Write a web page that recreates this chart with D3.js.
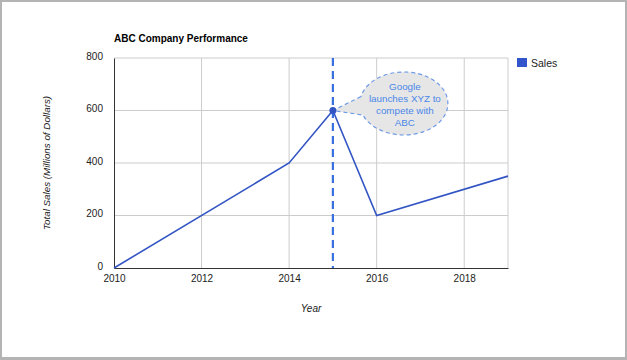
<!DOCTYPE html>
<html lang="en">
<head>
  <meta charset="UTF-8">
  <title>ABC Company Performance</title>
  <script src="https://d3js.org/d3.v7.min.js"></script>
  <style>
    body { margin: 0; background: #fff; }
    text { font-family: Arial, 'Liberation Sans', Helvetica, sans-serif; }
    .tick text { font-size: 10px; fill: #222; }
  </style>
</head>
<body>
  <script>
    var years = [2010, 2014, 2015, 2016, 2019];
    var sales = [0, 400, 600, 200, 350];
    var yTicks = [0, 200, 400, 600, 800];
    var xTicks = [2010, 2012, 2014, 2016, 2018];
    var eventYear = 2015;
    var noteLines = ["Google", "launches XYZ to", "compete with", "ABC"];

    var width = 627, height = 360;
    var margin = { top: 58, left: 114, right: 119, bottom: 92 };

    var svg = d3.select("body").append("svg")
      .attr("width", width)
      .attr("height", height);

    // outer frame
    svg.append("rect")
      .attr("x", 1).attr("y", 1)
      .attr("width", width - 2).attr("height", height - 2.5)
      .attr("fill", "#fff")
      .attr("stroke", "#b4b4b4")
      .attr("stroke-width", 2);
    svg.append("line")
      .attr("x1", 0).attr("x2", width)
      .attr("y1", height - 1.5).attr("y2", height - 1.5)
      .attr("stroke", "#b4b4b4").attr("stroke-width", 3);

    var x = d3.scaleLinear()
      .domain([2010, 2019])
      .range([margin.left, width - margin.right]);

    var y = d3.scaleLinear()
      .domain([0, 800])
      .range([height - margin.bottom, margin.top]);

    // grid
    var grid = svg.append("g");
    grid.selectAll(".hg")
      .data(yTicks.filter(function(d) { return d > 0; }))
      .enter().append("line")
      .attr("x1", x(2010)).attr("x2", x(2019))
      .attr("y1", function(d) { return y(d); })
      .attr("y2", function(d) { return y(d); })
      .attr("stroke", "#cccccc");
    grid.selectAll(".vg")
      .data(xTicks.slice(1).concat([2019]))
      .enter().append("line")
      .attr("y1", y(0)).attr("y2", y(800))
      .attr("x1", function(d) { return x(d); })
      .attr("x2", function(d) { return x(d); })
      .attr("stroke", "#cccccc");

    // axes
    var xAxis = svg.append("g")
      .attr("transform", "translate(0," + y(0) + ")")
      .call(d3.axisBottom(x).tickValues(xTicks).tickFormat(d3.format("d")).tickSize(0).tickPadding(7));
    xAxis.select(".domain").attr("stroke", "#333");

    var yAxis = svg.append("g")
      .attr("transform", "translate(" + x(2010) + ",0)")
      .call(d3.axisLeft(y).tickValues(yTicks).tickSize(0).tickPadding(11));
    yAxis.select(".domain").attr("stroke", "#333");
    yAxis.selectAll(".tick text").attr("dy", "0.1em");

    var pts = years.map(function(d, i) { return [d, sales[i]]; });
    var ev = pts[years.indexOf(eventYear)];

    // annotation bubble
    var px = x(ev[0]), py = y(ev[1]);
    var cx = px + 71, cy = py - 7, rx = 44, ry = 31.5;
    var a1 = Math.PI * 0.93, a2 = Math.PI * 1.12;
    var s1 = [cx + rx * Math.cos(a1), cy - ry * Math.sin(a1)];
    var s2 = [cx + rx * Math.cos(a2), cy - ry * Math.sin(a2)];
    var bubble = "M" + s1 + " L" + px + "," + py + " L" + s2 +
      " A" + rx + "," + ry + " 0 1 0 " + s1 + " Z";
    svg.append("path")
      .attr("d", bubble)
      .attr("fill", "#e6e6e6")
      .attr("stroke", "#6f9be6")
      .attr("stroke-width", 1.2)
      .attr("stroke-dasharray", "4,3");

    // event marker
    svg.append("line")
      .attr("x1", x(eventYear)).attr("x2", x(eventYear))
      .attr("y1", y(800)).attr("y2", y(0))
      .attr("stroke", "#3a6fe0")
      .attr("stroke-width", 2.2)
      .attr("stroke-dasharray", "8,5");

    // sales line
    svg.append("path")
      .datum(pts)
      .attr("fill", "none")
      .attr("stroke", "#3355c4")
      .attr("stroke-width", 1.6)
      .attr("d", d3.line()
        .x(function(d) { return x(d[0]); })
        .y(function(d) { return y(d[1]); }));

    svg.append("circle")
      .attr("cx", px).attr("cy", py)
      .attr("r", 3.5)
      .attr("fill", "#3355c4");

    svg.append("g").selectAll("text")
      .data(noteLines)
      .enter().append("text")
      .attr("x", cx + 1)
      .attr("y", function(d, i) { return cy - 14 + i * 12.2; })
      .attr("text-anchor", "middle")
      .attr("font-size", "9.8px")
      .attr("fill", "#4a86e8")
      .text(function(d) { return d; });

    // titles
    svg.append("text")
      .attr("x", margin.left).attr("y", 42)
      .attr("font-size", "10px")
      .attr("font-weight", "bold")
      .attr("fill", "#000")
      .text("ABC Company Performance");

    svg.append("text")
      .attr("transform", "translate(50," + y(400) + ") rotate(-90)")
      .attr("text-anchor", "middle")
      .attr("font-size", "9.8px")
      .attr("font-style", "italic")
      .attr("fill", "#222")
      .text("Total Sales (Millions of Dollars)");

    svg.append("text")
      .attr("x", (x(2010) + x(2019)) / 2).attr("y", 312)
      .attr("text-anchor", "middle")
      .attr("font-size", "10px")
      .attr("font-style", "italic")
      .attr("fill", "#222")
      .text("Year");

    // legend
    var legend = svg.append("g").attr("transform", "translate(517,58)");
    legend.append("rect")
      .attr("width", 10).attr("height", 9)
      .attr("fill", "#3355cc");
    legend.append("text")
      .attr("x", 14).attr("y", 9)
      .attr("font-size", "10.5px")
      .attr("fill", "#222")
      .text("Sales");
  </script>
</body>
</html>
